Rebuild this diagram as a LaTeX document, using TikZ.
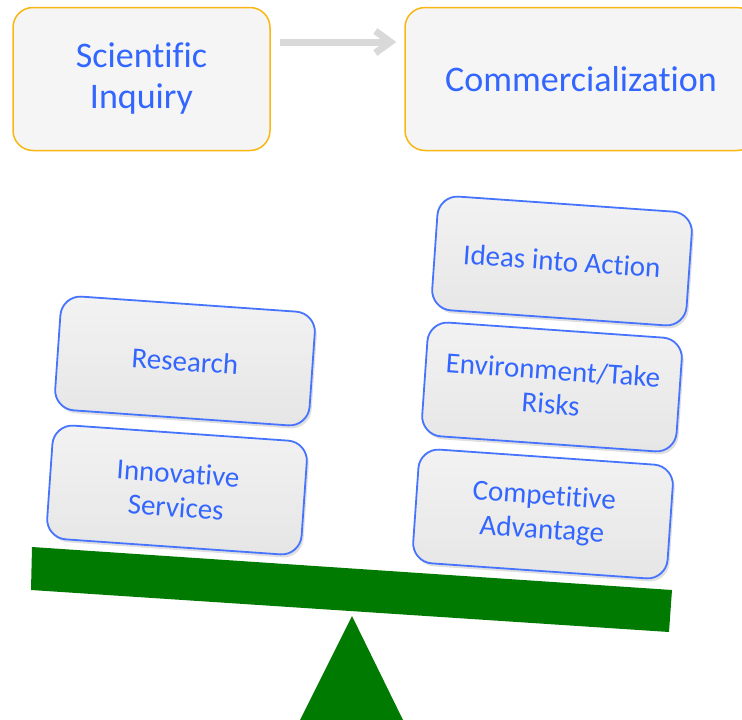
\documentclass[tikz,border=0pt]{standalone}
\usepackage{fontspec}
\setmainfont{Carlito}[Ligatures={NoCommon,NoContextual}]
\usetikzlibrary{arrows.meta,shadows}
\definecolor{txtblue}{RGB}{51,102,255}
\definecolor{boxblue}{RGB}{70,116,255}
\definecolor{boxorange}{RGB}{250,183,20}
\definecolor{beamgreen}{RGB}{0,122,0}
\begin{document}
\begin{tikzpicture}[x=1pt,y=-1pt,
	topbox/.style={rectangle,rounded corners=20pt,draw=boxorange,line width=1.5pt,fill=black!4,text=txtblue,align=center,minimum height=143pt,font=\fontsize{36}{41}\selectfont},
	block/.style={rectangle,rounded corners=20pt,draw=boxblue,line width=1.8pt,top color=black!5,bottom color=black!10,drop shadow={shadow xshift=2pt,shadow yshift=-3pt,opacity=0.25},text=txtblue,align=center,minimum width=255pt,minimum height=114pt,rotate=-4,font=\fontsize{29}{34}\selectfont},
	flow/.style={draw=black!15,line width=7pt,-{Straight Barb[length=15pt,width=22pt]}}]
	\useasboundingbox (0,0) rectangle (742,720);
	\clip (0,0) rectangle (742,720);

	\draw[] (141.5,79) node[topbox,minimum width=257pt] (sci) {Scientific\\Inquiry};
	\draw[] (581,79) node[topbox,minimum width=352pt] (com) {Commercialization};
	\draw[flow] ([shift={(9,-37)}]sci.east) -- ([shift={(-8,-37)}]com.west);

	% seesaw
	\fill[beamgreen] (32,547) -- (672,590) -- (669,632) -- (31,590) -- cycle;
	\fill[beamgreen] (352,616) -- (403,720) -- (300,720) -- cycle;

	\draw[] (177,490) node[block] (inn) {Innovative\\Services};
	\draw[] (185,361) node[block] (res) {Research};

	\draw[] (543,514) node[block] (cmp) {Competitive\\Advantage};
	\draw[] (552,387) node[block] (env) {Environment/Take\\Risks};
	\draw[] (562,261) node[block] (ide) {Ideas into Action};

\end{tikzpicture}
\end{document}
